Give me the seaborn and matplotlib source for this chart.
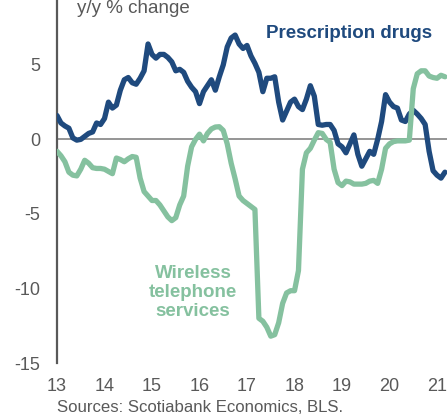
import numpy as np
import pandas as pd
import matplotlib
matplotlib.use("Agg")
import matplotlib.pyplot as plt
import seaborn as sns

# ---- data (monthly, y/y % change, starting Jan 2013) ----
prescription_drugs = [
    1.6, 1.1, 0.9, 0.75, 0.1, -0.05, 0.0, 0.2, 0.4, 0.5, 1.1, 1.0,
    1.4, 2.5, 2.1, 2.3, 3.3, 4.0, 4.15, 3.8, 3.7, 4.1, 4.6, 6.4,
    5.7, 5.45, 5.7, 5.7, 5.5, 5.2, 4.6, 4.7, 4.5, 3.9, 3.5, 3.2,
    2.4, 3.2, 3.6, 4.0, 3.3, 4.2, 5.0, 6.2, 6.8, 7.0, 6.4, 6.1,
    6.3, 5.6, 5.1, 4.5, 3.2, 4.1, 4.1, 4.2, 2.5, 1.3, 1.9, 2.5,
    2.7, 2.2, 2.0, 2.7, 3.6, 2.9, 1.0, 0.95, 1.0, 1.0, 0.6, -0.3,
    -0.5, -0.9, -0.3, 0.3, -1.0, -1.8, -1.3, -0.8, -1.0, 0.0, 1.2, 3.0,
    2.5, 2.2, 2.1, 1.3, 1.2, 1.7, 1.95, 1.7, 1.4, 1.0, -0.8, -2.1,
    -2.4, -2.6, -2.2,
]
wireless_services = [
    -0.8, -1.1, -1.5, -2.2, -2.4, -2.45, -2.0, -1.4, -1.6, -1.9, -1.95, -1.95,
    -2.0, -2.15, -2.3, -1.25, -1.35, -1.5, -1.3, -1.15, -1.2, -2.6, -3.5, -3.8,
    -4.1, -4.1, -4.4, -4.8, -5.2, -5.45, -5.25, -4.4, -3.8, -1.8, -0.5, 0.0,
    0.35, -0.1, 0.4, 0.7, 0.83, 0.85, 0.6, -0.3, -1.6, -2.65, -3.8, -4.1,
    -4.3, -4.5, -4.7, -12.0, -12.2, -12.6, -13.2, -13.1, -12.3, -11.0, -10.3, -10.15,
    -10.15, -8.8, -2.0, -0.9, -0.6, -0.05, 0.45, 0.4, 0.0, -0.2, -2.0, -2.9,
    -3.1, -2.8, -2.85, -3.0, -3.0, -3.0, -2.95, -2.8, -2.75, -2.95, -2.0, -0.6,
    -0.3, -0.15, -0.1, -0.1, -0.1, -0.05, 3.4, 4.4, 4.6, 4.6, 4.25, 4.15,
    4.1, 4.3, 4.2,
]
start_month = "2013-01"
x_ticks = [13, 14, 15, 16, 17, 18, 19, 20, 21]
y_ticks = [5, 0, -5, -10, -15]

BLUE = "#1F4A7E"
GREEN = "#85C19F"
GRAY = "#595959"

months = pd.period_range(start_month, periods=len(prescription_drugs), freq="M")
xpos = (months.year % 100) + (months.month - 1) / 12.0
df = pd.DataFrame({"x": xpos, "rx": prescription_drugs, "wl": wireless_services})

sns.set_style("white")
plt.rcParams["font.family"] = ["Liberation Sans", "DejaVu Sans"]

fig = plt.figure(figsize=(4.47, 4.16), dpi=100)
ax = fig.add_axes([57 / 447, 53 / 416, 390 / 447, 363 / 416])

sns.lineplot(data=df, x="x", y="rx", ax=ax, color=BLUE, linewidth=3.8,
             solid_joinstyle="round", solid_capstyle="round", zorder=3)
sns.lineplot(data=df, x="x", y="wl", ax=ax, color=GREEN, linewidth=3.8,
             solid_joinstyle="round", solid_capstyle="round", zorder=4)

ax.set_xlim(13, 21.21)
ax.set_ylim(-15, 9.35)
ax.set_xlabel("")
ax.set_ylabel("")

for s in ["top", "right"]:
    ax.spines[s].set_visible(False)
ax.spines["left"].set_color(GRAY)
ax.spines["left"].set_linewidth(1.6)
ax.spines["bottom"].set_position(("data", 0))
ax.spines["bottom"].set_color("#8C8C8C")
ax.spines["bottom"].set_linewidth(1.3)
ax.spines["bottom"].set_zorder(1)

ax.set_yticks(y_ticks)
ax.set_yticklabels([str(v) for v in y_ticks])
ax.tick_params(axis="y", direction="in", length=4, width=1.3, color=GRAY,
               labelcolor=GRAY, labelsize=13, pad=12)
ax.set_xticks(x_ticks)
ax.tick_params(axis="x", direction="out", length=4, width=1.2, color="#8C8C8C",
               labelbottom=False)

sec = ax.secondary_xaxis("bottom")
sec.set_xticks(x_ticks)
sec.set_xticklabels([str(v) for v in x_ticks])
sec.spines["bottom"].set_visible(False)
sec.tick_params(length=0, labelcolor=GRAY, labelsize=13, pad=11)

ax.text(349 / 447, 1 - 38 / 416, "Prescription drugs", transform=fig.transFigure,
        ha="center", va="baseline", color=BLUE, fontsize=13.5, fontweight="bold")
ax.text(193 / 447, 1 - 316 / 416, "Wireless\ntelephone\nservices",
        transform=fig.transFigure, ha="center", va="baseline", color=GREEN,
        fontsize=13.5, fontweight="bold", linespacing=1.15)
fig.text(77 / 447, 1 - 13 / 416, "y/y % change", ha="left", va="baseline",
         color=GRAY, fontsize=13.5)
fig.text(57 / 447, 1 - 412 / 416, "Sources: Scotiabank Economics, BLS.",
         ha="left", va="baseline", color=GRAY, fontsize=12.1)

fig.savefig("out.png", dpi=100)
